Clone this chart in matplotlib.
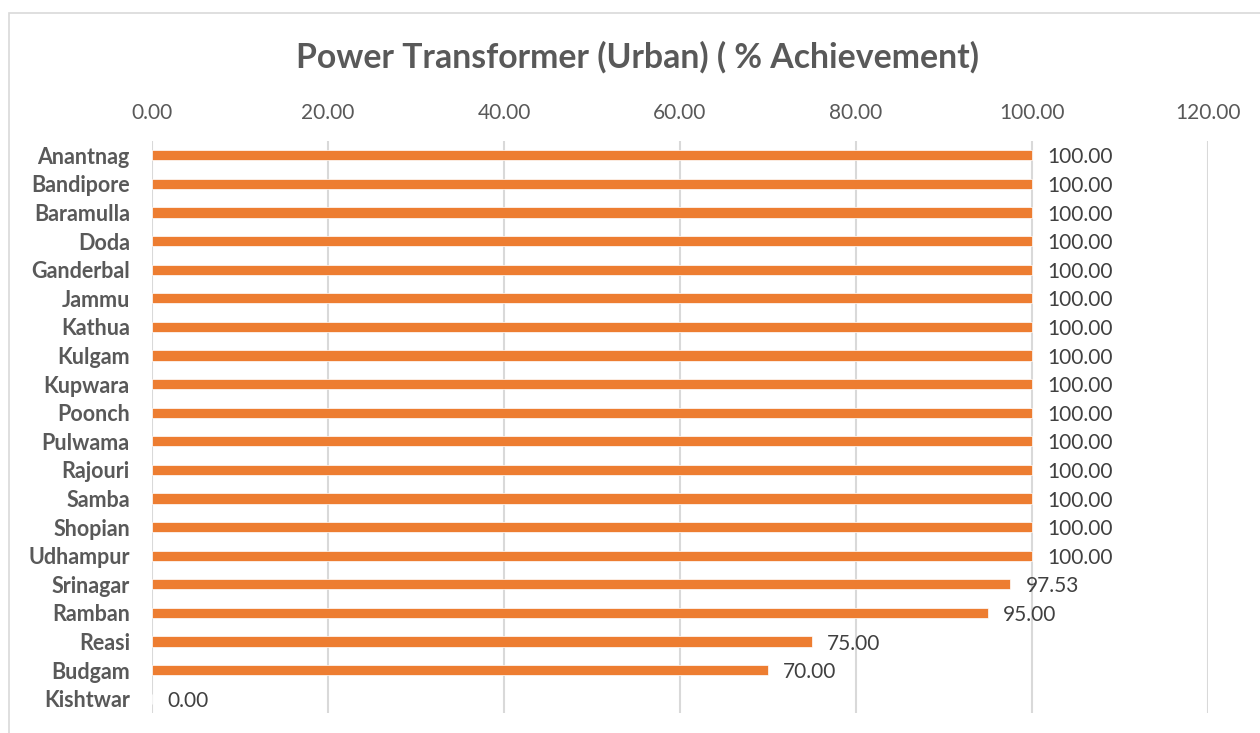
import matplotlib
matplotlib.use("Agg")
import matplotlib.pyplot as plt
from matplotlib.patches import Rectangle

districts = ["Anantnag", "Bandipore", "Baramulla", "Doda", "Ganderbal", "Jammu",
             "Kathua", "Kulgam", "Kupwara", "Poonch", "Pulwama", "Rajouri", "Samba",
             "Shopian", "Udhampur", "Srinagar", "Ramban", "Reasi", "Budgam", "Kishtwar"]
achievement = [100.00, 100.00, 100.00, 100.00, 100.00, 100.00, 100.00, 100.00, 100.00,
               100.00, 100.00, 100.00, 100.00, 100.00, 100.00, 97.53, 95.00, 75.00,
               70.00, 0.00]
xticks = [0, 20, 40, 60, 80, 100, 120]

plt.rcParams['font.family'] = ['Lato', 'DejaVu Sans']

W, H = 1260, 733
fig = plt.figure(figsize=(W / 100, H / 100), dpi=100)
fig.patch.set_facecolor("white")
fig.patches.append(Rectangle((9 / W, -0.1), 1.2, (H - 13) / H + 0.1, transform=fig.transFigure,
                             fill=False, edgecolor="#D9D9D9", linewidth=1.2))

ax = fig.add_axes([152 / W, 1 - 713 / H, (1208 - 152) / W, (713 - 141) / H])
ypos = list(range(len(districts)))
ax.barh(ypos, achievement, height=0.36, color="#ED7D31", edgecolor="white", linewidth=0.5, zorder=3)
ax.set_ylim(len(districts) - 0.5, -0.5)
ax.set_xlim(0, 120)
ax.set_xticks(xticks)
ax.set_xticklabels([f"{v:.2f}" for v in xticks], color="#595959", fontsize=15)
ax.xaxis.tick_top()
ax.tick_params(axis="x", length=0, pad=13)
ax.tick_params(axis="y", length=0, pad=16)
ax.set_yticks(ypos)
ax.set_yticklabels(districts, fontsize=15.5, fontweight="bold", color="#595959")
ax.grid(axis="x", color="#D9D9D9", linewidth=1.5, zorder=0)
for s in ax.spines.values():
    s.set_visible(False)

for y, v in zip(ypos, achievement):
    ax.annotate(f"{v:.2f}", xy=(v, y), xytext=(11, -1.5), textcoords="offset points",
                va="center", ha="left", fontsize=15, color="#404040")

fig.text((298 + 978) / 2 / W, 1 - 57 / H, "Power Transformer (Urban) ( % Achievement)",
         ha="center", va="center", fontsize=24.3, fontweight="bold", color="#595959")

fig.savefig("out.png", dpi=100)
